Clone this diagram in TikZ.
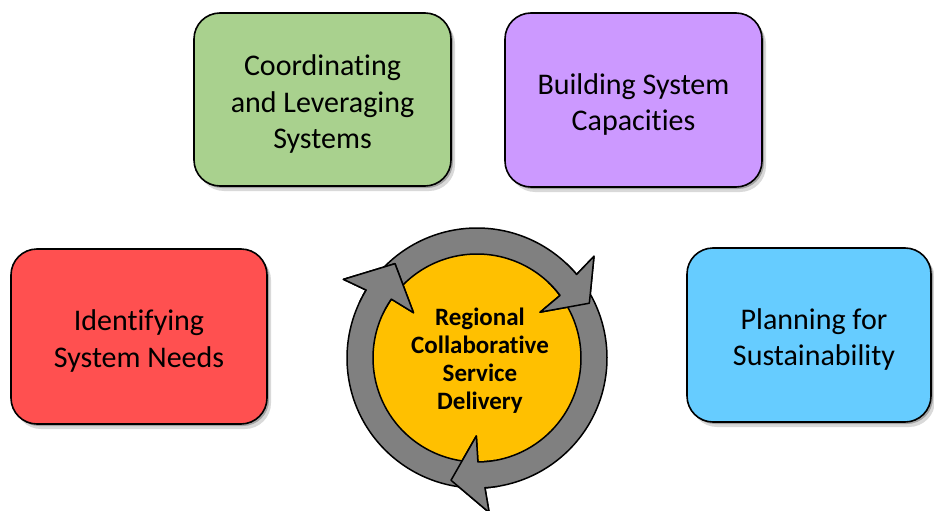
\documentclass[tikz,border=0pt]{standalone}
\usepackage{fontspec}
\setmainfont{Carlito}[Ligatures={NoCommon}]
\usetikzlibrary{shadows}
\definecolor{cgreen}{RGB}{169,209,142}
\definecolor{cpurple}{RGB}{204,153,255}
\definecolor{cred}{RGB}{255,80,80}
\definecolor{cblue}{RGB}{102,204,255}
\definecolor{cyellow}{RGB}{255,192,0}
\definecolor{cgray}{RGB}{128,128,128}
\newcommand\ro{130}
\newcommand\ri{104}
\newcommand\rbo{155}
\newcommand\rbi{78}
\newcommand\rt{125}
\newcommand\topstrut{\rule{0pt}{30pt}}
% #1 tail angle, #2 base angle, #3 tip angle
\newcommand\ringarrowpath[3]{(#1:\ro) arc[start angle=#1, end angle=#2+1.5, radius=\ro] -- (#2+2.5:\rbo) -- (#3:\rt) -- (#2-2.5:\rbi) -- (#2-1.5:\ri) arc[start angle=#2-1.5, end angle=#1, radius=\ri] -- cycle}
\begin{document}
\begin{tikzpicture}[x=1pt,y=1pt,
  box/.style={draw=black, line width=1.6pt, rounded corners=26pt, inner sep=0pt,
    align=center, font=\fontsize{30}{36.6}\selectfont,
    drop shadow={shadow xshift=2pt, shadow yshift=-2pt, opacity=0.25, fill=black},
    drop shadow={shadow xshift=4pt, shadow yshift=-5pt, opacity=0.15, fill=black}},
  ringpart/.style={fill=cgray, draw=black, line width=1.5pt, line join=round},
  hub/.style={circle, fill=cyellow, minimum size=212pt, inner sep=0pt},
  hubtext/.style={align=center, font=\bfseries\fontsize{25}{28}\selectfont}]
\useasboundingbox (0,0) rectangle (934,-511);

\node[box, fill=cgreen, minimum width=257pt, minimum height=173pt] (coord) at (322.5,-99.5) {\topstrut Coordinating\\and Leveraging\\Systems};
\node[box, fill=cpurple, minimum width=257pt, minimum height=174pt] (build) at (633.5,-100) {\topstrut Building System\\Capacities};
\node[box, fill=cred, minimum width=256pt, minimum height=175pt] (ident) at (139,-336.5) {\topstrut Identifying\\System Needs};
\node[box, fill=cblue, minimum width=244pt, minimum height=174pt] (plan) at (809,-335) {\topstrut\hspace*{10pt}Planning for\\\hspace*{10pt}Sustainability};

\node[hub] (hub) at (477,-358) {};
\begin{scope}[shift={(hub.center)}]
  \draw[ringpart] \ringarrowpath{151}{38.5}{26};
  \draw[ringpart] \ringarrowpath{42.5}{-88}{-102};
  \draw[ringpart] \ringarrowpath{-84}{-213}{-229};
  \begin{scope}
    \clip (0,0) -- (23:200) arc[start angle=23, end angle=46.5, radius=200] -- cycle;
    \draw[ringpart] \ringarrowpath{151}{38.5}{26};
  \end{scope}
  \begin{scope}
    \clip (0,0) -- (-105:200) arc[start angle=-105, end angle=-80, radius=200] -- cycle;
    \draw[ringpart] \ringarrowpath{42.5}{-88}{-102};
  \end{scope}
  \begin{scope}
    \clip (0,0) -- (-232:200) arc[start angle=-232, end angle=-205, radius=200] -- cycle;
    \draw[ringpart] \ringarrowpath{-84}{-213}{-229};
  \end{scope}
\end{scope}
\node[hubtext] (hubt) at (480,-361) {Regional\\Collaborative\\Service\\Delivery};
\end{tikzpicture}
\end{document}
